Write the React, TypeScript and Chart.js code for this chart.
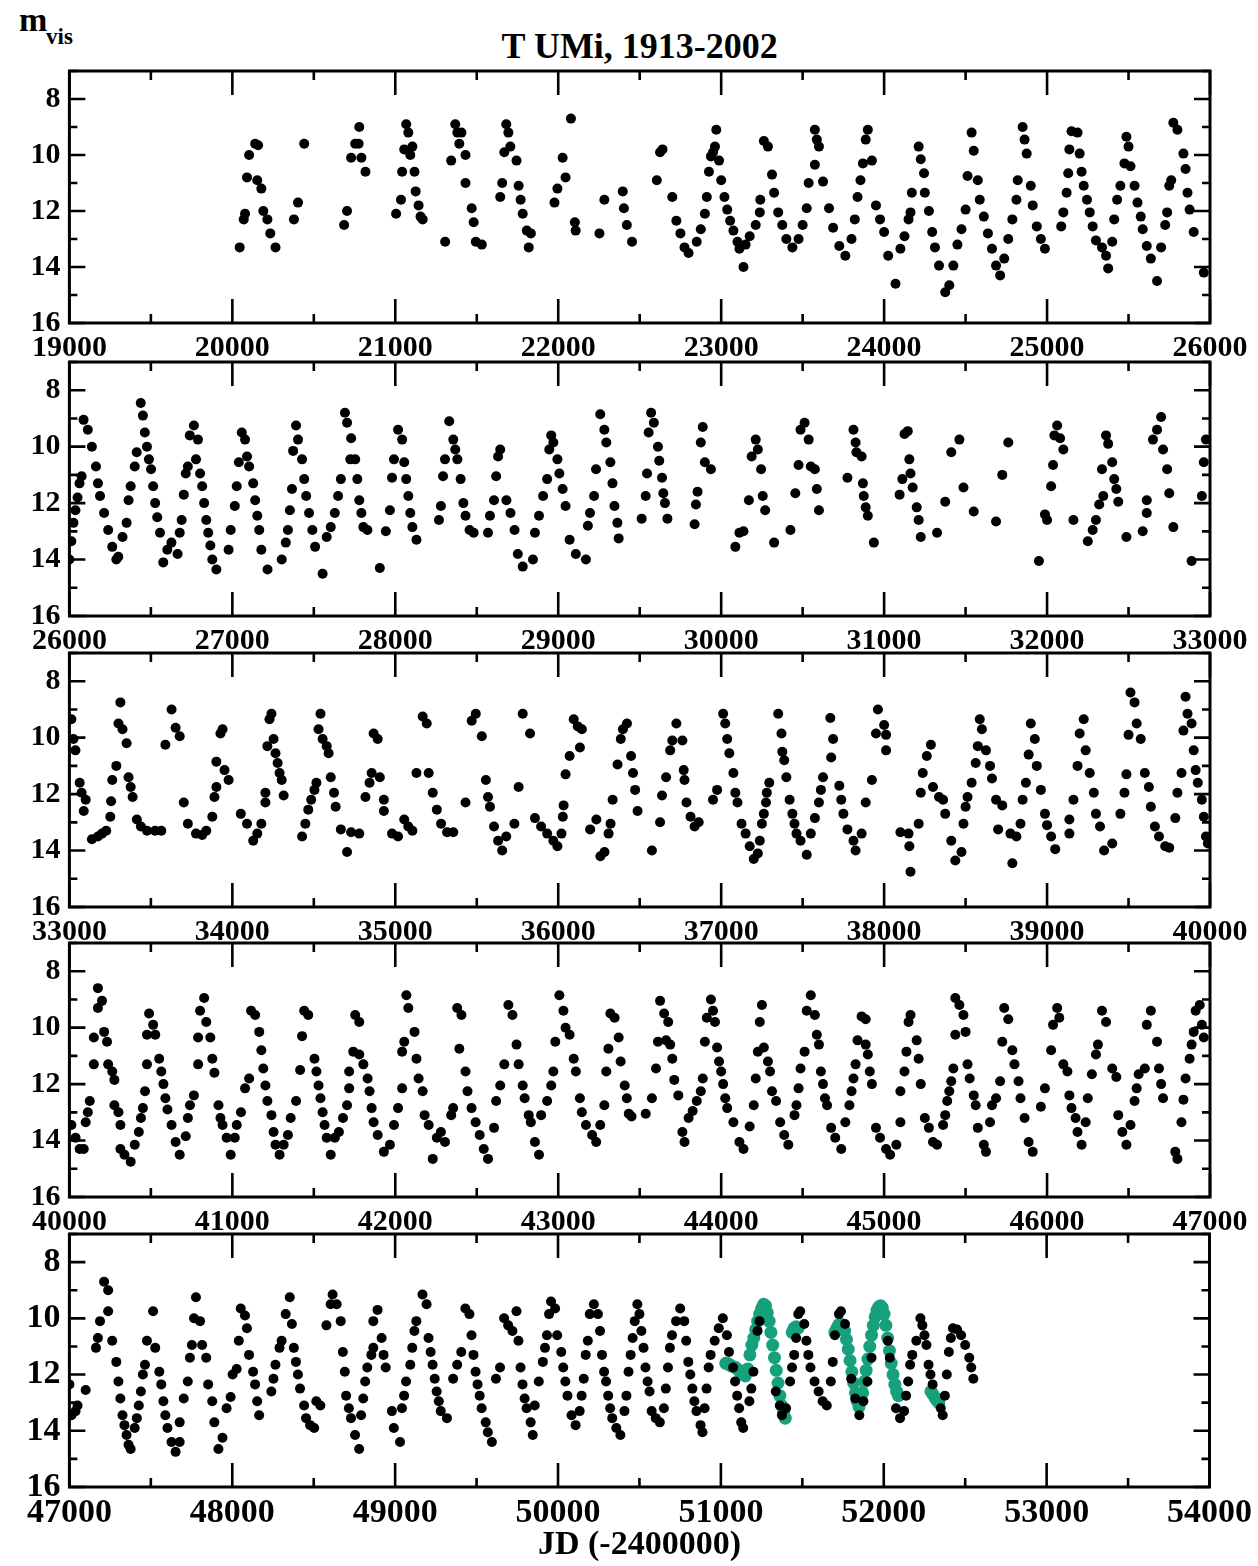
import React, { useEffect, useRef } from "react";
import { Chart, registerables } from "chart.js";

Chart.register(...registerables);

// ---------------- data ----------------
const TITLE = "T UMi, 1913-2002";
const X_TITLE = "JD (-2400000)";
const Y_LABEL = "m";
const Y_LABEL_SUB = "vis";
const PANEL_STARTS = [19000, 26000, 33000, 40000, 47000];
const PANEL_SPAN = 7000;
const MAG_TICKS = [8, 10, 12, 14, 16];
const MAG_MIN = 7;
const MAG_MAX = 16;

// visual magnitude estimates [JD-2400000, m_vis]
const panel1: [number, number][] = [
  [20045,13.3],[20070,12.3],[20078,12.1],[20090,10.8],[20103,10.0],[20140,9.6],[20158,9.65],[20153,10.9],[20178,11.2],[20190,12.0],[20215,12.3],[20233,12.8],[20265,13.3],
  [20378,12.3],[20403,11.7],[20441,9.6],
  [20686,12.5],[20704,12.0],[20729,10.1],[20754,9.6],[20775,9.6],[20779,9.0],[20792,10.1],[20817,10.6],
  [21005,12.1],[21035,11.6],[21042,10.6],[21055,9.8],[21067,8.9],[21080,9.2],[21092,10.0],[21105,9.7],[21118,10.6],[21125,11.3],[21143,11.8],[21155,12.2],[21168,12.3],
  [21306,13.1],[21343,10.2],[21368,8.9],[21381,9.2],[21393,9.6],[21406,9.2],[21431,10.0],[21431,11.0],[21469,11.9],[21481,12.4],[21494,13.1],[21531,13.2],
  [21644,11.5],[21656,11.0],[21669,9.9],[21681,8.9],[21694,9.2],[21706,9.7],[21744,10.2],[21757,11.1],[21769,11.6],[21782,12.1],[21807,12.7],[21819,13.3],[21832,12.8],
  [21977,11.7],[21995,11.2],[22027,10.1],[22045,10.8],[22078,8.7],[22102,12.4],[22107,12.7],
  [22253,12.8],[22283,11.6],[22396,11.3],[22403,11.9],[22421,12.5],[22453,13.1],
  [22605,10.9],[22625,9.9],[22640,9.8],
  [22700,11.5],[22725,12.35],[22750,12.8],[22775,13.3],[22800,13.5],[22850,13.1],[22875,12.65],[22900,12.1],[22912,11.5],[22925,10.6],[22937,10.05],[22950,9.9],[22962,9.7],[22970,9.1],[22987,10.2],
  [23000,10.9],[23020,11.5],[23037,11.95],[23055,12.35],[23075,12.7],[23100,13.1],[23112,13.35],[23137,14.0],[23150,13.2],[23175,12.9],[23212,12.5],[23237,12.05],[23240,11.6],
  [23262,9.5],[23287,9.7],[23312,10.7],[23325,11.35],[23350,12.05],[23375,12.5],[23400,13.0],[23437,13.3],[23475,13.0],[23500,12.5],[23525,11.9],
  [23537,11.0],[23575,9.1],[23587,9.45],[23575,10.35],[23600,9.7],[23625,10.95],
  [23662,11.9],[23687,12.6],[23725,13.25],[23762,13.6],[23800,13.0],[23820,12.3],[23837,11.5],[23855,10.9],[23870,10.3],[23887,9.45],[23900,9.1],[23925,10.2],
  [23950,11.8],[23975,12.3],[24000,12.75],[24025,13.6],[24070,14.6],[24100,13.35],[24125,12.9],[24150,12.3],[24162,12.05],[24170,11.35],[24212,9.7],[24225,10.15],[24245,10.65],[24250,11.35],
  [24275,12.0],[24295,12.75],[24312,13.3],[24337,13.95],[24375,14.9],[24400,14.65],[24425,13.95],[24450,13.2],[24475,12.65],[24500,11.95],[24512,10.75],[24537,9.2],[24550,9.85],[24575,10.9],[24587,11.6],
  [24612,12.2],[24637,12.8],[24662,13.35],[24687,13.95],[24712,14.3],[24737,13.7],[24762,13.0],[24787,12.3],[24812,11.6],[24820,10.9],[24850,9.0],[24862,9.45],[24875,9.95],[24900,11.1],[24912,11.8],[24937,12.55],[24962,13.0],[24987,13.35],
  [25087,12.55],[25100,12.05],[25120,11.35],[25130,10.65],[25137,9.8],[25150,9.15],[25187,9.2],[25200,9.95],[25212,10.6],[25225,11.1],[25245,11.6],[25262,12.05],[25280,12.55],[25300,13.05],[25337,13.3],[25362,13.6],[25375,14.05],[25400,13.1],
  [25412,12.3],[25430,11.6],[25450,11.1],[25475,10.3],[25487,9.35],[25500,9.7],[25512,10.4],[25537,11.1],[25555,11.7],[25575,12.2],[25587,12.65],[25612,13.25],[25637,13.7],[25675,14.5],[25700,13.3],[25725,12.5],[25737,12.05],[25750,11.1],[25762,10.9],[25775,8.85],[25800,9.1],[25837,9.95],[25850,10.5],[25862,11.35],[25875,11.95],[25900,12.75],[25962,14.2],
];

const panel2: [number, number][] = [
  [26000,14.0],[26012,13.35],[26025,12.7],[26037,12.25],[26050,11.8],[26062,11.3],[26075,11.05],[26087,9.05],[26113,9.4],[26138,10.0],[26163,10.7],[26175,11.3],[26188,11.75],[26213,12.35],[26238,12.95],[26263,13.55],[26288,14.0],[26300,13.9],[26326,13.2],[26351,12.7],
  [26363,11.9],[26376,11.4],[26401,10.7],[26413,10.2],[26438,8.45],[26451,8.9],[26463,9.5],[26476,10.0],[26488,10.45],[26501,10.8],[26514,11.4],[26526,12.0],[26539,12.5],[26556,13.05],[26576,14.1],[26601,13.65],[26626,13.4],[26664,13.8],[26677,13.05],[26689,12.6],
  [26702,11.7],[26714,10.95],[26727,10.7],[26739,9.6],[26764,9.25],[26789,9.75],[26777,10.45],[26802,10.95],[26815,11.4],[26827,12.0],[26840,12.6],[26852,13.05],[26865,13.5],[26877,14.0],[26902,14.35],
  [26977,13.65],[26990,12.95],[27015,12.1],[27027,11.4],[27040,10.55],[27058,9.5],[27078,9.75],[27090,10.35],[27103,10.7],[27128,11.3],[27140,11.9],[27153,12.45],[27165,12.95],[27178,13.65],[27216,14.35],
  [27303,14.0],[27328,13.4],[27341,12.95],[27353,12.25],[27366,11.5],[27373,10.15],[27391,9.25],[27403,9.75],[27428,10.45],[27441,11.15],[27453,11.75],[27471,12.35],[27491,12.95],[27508,13.55],[27554,14.5],
  [27579,13.2],[27604,12.85],[27629,12.35],[27649,11.75],[27666,11.15],[27691,8.8],[27704,9.15],[27729,9.7],[27724,10.45],[27754,10.45],[27767,11.15],[27779,11.9],[27792,12.35],[27804,12.85],[27829,12.95],
  [27905,14.3],[27942,13.0],[27967,12.25],[27980,11.1],[27992,10.45],[28017,9.4],[28042,9.75],[28055,10.55],[28067,11.15],[28080,11.75],[28092,12.35],[28105,12.85],[28130,13.3],
  [28268,12.6],[28280,12.1],[28293,11.05],[28305,10.45],[28331,9.1],[28356,9.75],[28368,10.1],[28381,10.45],[28401,11.15],[28418,12.0],[28431,12.45],[28456,12.95],[28481,13.05],
  [28569,13.05],[28581,12.45],[28606,11.9],[28619,11.05],[28631,10.35],[28644,10.1],[28682,11.9],[28707,12.35],[28732,12.95],[28752,13.8],[28782,14.25],[28845,14.0],
  [28857,13.05],[28882,12.45],[28907,11.75],[28932,11.15],[28945,10.1],[28957,9.6],[28970,9.85],[28995,10.45],[29007,10.95],[29027,11.5],[29045,12.1],[29070,13.3],[29108,13.8],[29170,14.0],
  [29182,12.8],[29195,12.35],[29220,11.75],[29232,10.8],[29258,8.85],[29283,9.4],[29295,9.85],[29320,10.55],[29333,11.3],[29345,12.1],[29363,12.7],[29371,13.25],
  [29512,12.55],[29537,11.75],[29545,10.95],[29555,9.5],[29570,8.8],[29587,9.15],[29612,10.0],[29620,10.5],[29637,11.1],[29645,11.65],[29655,12.0],[29670,12.55],
  [29837,12.75],[29845,12.05],[29855,11.6],[29875,9.85],[29887,9.3],[29900,10.55],[29937,10.8],
  [30087,13.55],[30112,13.05],[30137,13.0],[30170,11.9],[30187,10.35],[30212,9.75],[30225,10.1],[30245,10.8],[30255,11.75],[30270,12.25],
  [30325,13.4],[30425,12.95],[30455,11.65],[30475,10.65],[30487,9.4],[30512,9.15],[30537,9.75],[30550,10.7],[30575,10.8],[30587,11.5],[30600,12.25],
  [30775,11.1],[30812,9.4],[30825,9.85],[30830,10.2],[30862,10.35],[30870,11.3],[30875,11.75],[30887,12.15],[30900,12.45],[30937,13.4],
  [31095,11.7],[31112,11.15],[31125,9.55],[31145,9.45],[31155,10.45],[31162,10.95],[31175,11.45],[31200,12.15],[31212,12.6],[31225,13.2],[31325,13.05],
  [31375,11.95],[31412,10.2],[31462,9.75],[31487,11.45],[31550,12.3],[31687,12.65],[31725,11.0],[31762,9.85],
  [31950,14.05],[31987,12.4],[32000,12.6],[32025,11.4],[32037,10.65],[32045,9.6],[32062,9.25],[32080,9.7],[32100,10.1],[32162,12.6],
  [32250,13.35],[32280,12.95],[32300,12.6],[32320,12.05],[32345,11.75],[32337,10.8],[32362,9.6],[32375,9.9],[32400,10.55],[32412,11.15],[32425,11.5],[32437,11.95],
  [32487,13.2],[32587,13.0],[32612,12.35],[32612,11.9],[32650,9.75],[32675,9.4],[32700,8.95],[32712,10.1],[32737,10.8],[32750,11.65],[32775,12.85],
  [32887,14.05],[32950,11.75],[32962,10.55],[32975,9.75],
];

const panel3: [number, number][] = [
  [33012,9.35],[33025,10.05],[33037,10.45],[33063,11.6],[33075,11.95],[33100,12.2],[33088,12.6],
  [33138,13.6],[33175,13.5],[33200,13.4],[33226,13.3],[33251,12.8],[33256,12.25],[33263,11.5],[33288,11.0],[33301,9.5],[33313,8.75],[33326,9.7],[33351,10.2],[33363,11.4],[33376,11.75],[33388,12.1],
  [33414,12.9],[33439,13.15],[33476,13.3],[33526,13.3],[33564,13.3],
  [33589,10.25],[33627,9.0],[33652,9.65],[33677,9.95],
  [33702,12.3],[33727,13.05],[33777,13.4],[33815,13.45],[33840,13.3],[33877,12.8],[33890,12.1],[33902,11.75],[33902,10.85],[33927,9.85],[33940,9.7],[33952,11.15],[33977,11.5],
  [34052,12.7],[34090,13.05],[34128,13.65],[34153,13.4],[34178,13.05],[34203,12.3],[34203,11.95],[34215,10.3],[34228,9.35],[34240,9.15],[34253,10.05],[34265,10.55],[34278,10.9],[34290,11.25],[34303,11.5],[34315,12.05],
  [34428,13.5],[34448,13.05],[34466,12.55],[34484,12.2],[34504,11.85],[34516,11.6],[34529,9.7],[34541,9.15],[34554,10.05],[34579,10.3],[34591,10.55],[34604,11.4],[34624,11.95],[34634,12.45],
  [34666,13.25],[34704,14.05],[34729,13.35],[34779,13.4],
  [34817,12.1],[34842,11.6],[34855,11.25],[34867,9.85],[34892,10.05],[34905,11.4],[34930,12.2],[34930,12.6],
  [34980,13.4],[35017,13.5],[35055,12.9],[35080,13.15],[35105,13.3],
  [35130,11.25],[35168,9.25],[35193,9.5],[35205,11.25],[35230,11.95],[35255,12.55],[35281,13.05],[35318,13.35],[35356,13.35],
  [35431,12.3],[35469,9.4],[35494,9.15],[35531,9.95],
  [35556,11.5],[35569,12.1],[35581,12.45],[35606,13.15],[35631,13.65],[35656,14.0],[35681,13.5],[35731,13.05],
  [35757,11.75],[35782,9.15],[35827,9.85],
  [35857,12.85],[35895,13.15],[35932,13.4],[35970,13.65],[35995,13.85],[36020,13.4],[36028,12.8],[36033,12.4],[36045,11.3],[36070,10.65],[36095,9.35],[36120,9.6],[36133,10.35],[36145,9.7],
  [36196,13.25],[36234,12.9],[36259,14.2],[36284,14.05],[36309,13.4],[36321,13.05],[36334,12.2],[36364,10.95],[36384,10.05],[36397,9.7],[36422,9.5],[36447,10.65],[36459,11.25],[36472,11.85],[36487,12.6],
  [36575,14.0],[36625,13.0],[36637,12.05],[36662,11.4],[36687,10.45],[36700,10.1],[36725,9.5],[36762,10.1],[36770,11.15],[36775,11.5],[36787,12.3],[36812,12.8],[36837,13.15],[36862,13.0],
  [36950,12.2],[36975,11.85],[37012,9.15],[37025,9.5],[37037,10.05],[37050,10.55],[37075,11.25],[37087,11.95],[37100,12.3],[37125,13.05],[37150,13.4],[37175,13.85],[37200,14.3],[37225,14.1],[37237,13.65],[37250,13.05],[37262,12.7],[37275,12.3],[37280,11.95],[37295,11.6],
  [37350,9.15],[37370,9.85],[37375,10.5],[37387,10.8],[37400,11.4],[37420,12.2],[37437,12.7],[37450,13.05],[37462,13.4],[37487,13.65],[37525,14.15],[37550,13.4],[37575,12.85],[37600,12.3],[37612,11.85],[37625,11.4],[37675,10.7],[37687,10.05],[37670,9.3],
  [37725,11.7],[37737,12.2],[37750,12.7],[37775,13.25],[37812,13.65],[37825,14.0],[37862,13.4],[37887,12.3],[37925,11.5],[37950,9.85],[37962,9.0],[38000,9.55],[38012,9.9],[38012,10.45],
  [38100,13.35],[38150,13.4],[38155,13.85],[38162,14.75],[38212,13.05],[38225,11.95],[38237,11.25],[38262,10.65],[38287,10.25],[38300,11.75],[38337,12.1],[38362,12.2],[38375,12.7],
  [38412,13.65],[38437,14.35],[38475,14.05],[38487,13.05],[38500,12.45],[38512,12.1],[38537,11.6],[38562,10.9],[38575,10.3],[38587,9.35],[38600,9.7],[38625,10.45],[38650,11.0],[38662,11.45],[38687,12.2],[38725,12.4],
  [38700,13.25],[38775,13.4],[38787,14.45],[38812,13.5],[38837,13.05],[38850,12.2],[38870,11.6],[38887,10.6],[38900,9.5],[38925,10.05],[38937,11.0],[38962,11.85],[38987,12.7],[39000,13.1],[39025,13.5],[39050,13.95],
  [39137,13.4],[39137,12.9],[39162,12.2],[39187,11.0],[39200,9.85],[39225,9.35],[39237,10.45],[39262,11.25],[39287,11.95],[39300,12.7],[39325,13.15],[39350,14.0],[39400,13.75],
  [39450,12.7],[39475,11.95],[39487,11.3],[39500,9.9],[39512,8.4],[39537,8.75],[39550,9.5],[39575,10.05],[39600,11.25],[39625,11.75],[39637,12.45],[39662,13.15],[39687,13.5],[39725,13.85],[39750,13.9],
  [39787,12.85],[39800,11.95],[39825,11.25],[39837,9.75],[39850,8.55],[39862,9.15],[39887,9.5],[39900,10.45],[39912,11.15],[39925,11.6],[39950,12.2],[39962,12.8],[39975,13.5],[39987,13.75],
];

const panel4: [number, number][] = [
  [40012,13.45],[40038,13.9],[40063,14.3],[40088,14.3],[40100,13.35],[40113,13.0],[40125,12.6],[40150,11.3],[40150,10.35],[40175,9.3],[40175,8.6],[40200,9.05],[40213,10.15],[40231,10.5],[40238,11.3],[40263,11.55],[40276,11.85],[40276,12.75],[40301,13.0],[40313,13.45],
  [40313,14.3],[40338,14.5],[40376,14.75],[40401,14.15],[40426,13.7],[40439,13.2],[40451,12.85],[40464,12.25],[40476,11.3],[40476,10.25],[40489,9.5],[40514,9.9],[40527,10.25],[40551,11.1],[40564,11.55],[40577,12.0],[40589,12.5],[40602,12.9],[40627,13.45],[40652,14.05],[40677,14.5],[40714,13.85],
  [40727,13.2],[40740,12.75],[40764,12.4],[40790,11.3],[40790,10.35],[40802,9.4],[40827,8.95],[40840,9.8],[40865,10.35],[40877,11.1],[40890,11.6],[40915,12.75],[40927,13.2],[40940,13.45],[40965,13.9],[40990,14.5],[41015,13.9],[41027,13.45],[41053,13.0],[41078,12.15],[41103,11.8],[41115,9.4],[41140,9.55],[41165,10.15],[41178,10.8],[41190,11.45],[41203,12.05],[41215,12.6],[41240,13.1],[41253,13.7],[41265,14.15],[41290,14.5],[41315,14.15],[41341,13.8],[41358,13.2],[41391,12.6],[41416,11.5],[41428,10.3],[41441,9.4],[41466,9.55],
  [41504,11.1],[41516,11.55],[41529,12.05],[41541,12.5],[41554,13.0],[41566,13.45],[41579,13.9],[41604,14.5],[41629,13.9],[41654,13.7],[41679,13.2],[41704,12.75],[41717,12.15],[41717,11.55],[41742,10.85],[41754,9.55],[41779,9.8],[41779,10.95],[41804,11.3],[41830,11.8],[41842,12.25],[41855,12.85],[41867,13.35],[41892,13.8],[41930,14.4],[41967,14.15],[41992,13.45],[42017,12.85],[42042,12.15],[42042,10.85],[42055,10.5],[42068,8.85],[42080,9.3],[42118,10.15],[42130,11.1],[42143,11.8],[42168,12.25],[42180,13.1],[42205,13.45],[42230,14.65],[42255,13.9],[42280,13.7],[42305,14.05],[42343,13.1],[42355,12.85],
  [42380,9.3],[42406,9.55],[42393,10.75],[42431,11.55],[42443,12.25],[42468,12.85],[42493,13.35],[42518,13.8],[42543,14.3],[42569,14.65],[42606,13.55],[42619,12.6],[42644,12.05],[42669,11.3],[42694,9.2],[42719,9.55],[42744,10.6],[42757,11.3],[42782,12.05],[42794,12.5],[42819,13.1],[42832,13.35],[42857,14.05],[42882,14.5],[42895,13.1],[42932,12.6],[42957,12.05],[42970,11.55],[42982,10.5],[43007,8.85],[43032,9.4],[43045,10.0],[43070,10.25],[43095,11.1],[43108,11.55],[43133,12.5],[43145,13.0],[43170,13.45],[43208,13.8],[43233,14.05],[43258,13.45],[43283,12.75],[43295,11.55],[43308,10.75],[43320,9.5],[43346,9.65],[43371,10.35],[43383,11.2],[43408,12.05],[43421,12.5],[43433,13.05],
  [43450,13.15],[43537,13.05],[43575,12.5],[43600,11.45],[43612,10.5],[43625,9.05],[43650,9.5],[43675,9.8],[43662,10.45],[43687,10.6],[43700,11.1],[43712,11.85],[43737,12.4],[43762,13.7],[43775,14.05],[43800,13.2],[43825,12.95],[43850,12.6],[43875,12.25],[43887,11.8],[43900,10.5],[43912,9.65],[43937,9.0],[43950,9.4],[43962,9.8],[43975,10.7],[43987,11.2],[44000,11.55],[44012,12.0],[44025,12.5],[44037,12.85],[44075,13.35],[44112,14.05],[44137,14.3],[44175,13.5],[44200,12.75],[44212,11.8],[44225,10.85],[44237,9.8],[44250,9.2],[44262,10.7],[44287,11.2],[44300,11.55],[44312,12.25],[44337,12.6],[44362,13.35],[44387,13.8],[44412,14.15],[44450,13.1],[44462,12.75],[44475,12.15],[44487,11.45],[44512,10.85],[44525,9.4],[44550,8.85],[44575,9.55],[44587,10.25],[44600,10.6],[44612,11.55],[44625,12.0],[44637,12.5],[44650,12.75],[44675,13.55],[44700,13.9],[44737,14.3],[44762,13.35],[44787,12.75],[44800,12.25],[44812,11.8],[44825,11.3],[44837,10.45],[44862,9.6],[44887,9.7],[44887,10.6],[44900,10.95],[44912,11.55],[44925,12.0],[44950,13.55],[44975,13.9],[45012,14.3],[45037,14.5],[45075,14.15],[45100,13.35],[45100,12.25],[45125,11.55],[45137,10.85],[45150,9.8],[45162,9.55],[45200,10.45],[45212,11.1],[45225,12.0],
  [45250,13.2],[45275,13.55],[45300,14.05],[45325,14.15],[45362,13.45],[45375,13.1],[45387,12.6],[45400,12.25],[45412,11.9],[45425,11.45],[45437,10.25],[45437,8.95],[45462,9.2],[45487,9.55],[45500,10.15],[45512,11.3],[45525,11.8],[45550,12.4],[45562,12.75],[45575,13.55],[45612,14.15],[45625,14.4],[45650,13.35],[45662,12.75],[45687,12.5],[45712,11.9],[45725,10.5],[45737,9.3],[45762,9.7],[45787,10.8],[45800,11.3],[45825,11.9],[45837,12.5],[45862,13.2],[45887,14.05],[45912,14.4],[45962,12.8],[45987,12.15],
  [46025,10.8],[46037,9.9],[46062,9.3],[46075,9.65],[46100,11.3],[46125,11.55],[46137,12.4],[46150,12.85],[46175,13.2],[46187,13.7],[46212,14.15],[46237,13.35],[46250,12.5],[46275,11.65],[46300,10.95],[46312,10.6],[46337,9.4],[46362,9.8],[46400,11.45],[46425,11.75],
  [46437,13.1],[46462,13.7],[46487,14.15],[46512,13.45],[46537,12.6],[46550,12.15],[46562,11.65],[46600,11.45],[46612,9.9],[46637,9.4],[46675,10.5],[46687,11.45],[46700,12.0],[46712,12.5],[46787,14.4],[46800,14.65],[46825,13.35],[46837,12.55],[46850,11.8],[46875,11.1],[46887,10.6],[46900,10.15],[46912,9.4],[46937,9.2],[46950,9.9],[46962,10.35],
];

const panel5: [number, number][] = [
  [47000,12.35],[47013,13.45],[47038,13.3],[47050,13.1],[47100,12.55],[47163,11.05],[47175,10.7],[47188,10.1],[47213,8.7],[47238,9.0],[47238,9.75],[47263,10.8],[47288,11.55],[47301,12.25],[47313,12.85],[47326,13.45],[47338,13.8],[47351,14.15],[47363,14.5],[47376,14.65],[47401,13.9],[47414,13.55],[47426,13.1],[47439,12.6],[47451,12.0],[47464,11.65],[47476,10.8],[47514,9.75],[47527,11.05],[47552,11.9],[47564,12.35],[47577,12.95],[47589,13.45],[47602,13.9],[47627,14.4],[47652,14.75],[47677,14.4],[47677,13.7],[47702,12.85],[47727,12.25],[47740,11.4],[47752,10.95],[47765,10.0],[47777,9.25],[47802,10.1],[47815,10.95],[47840,11.4],[47852,12.35],[47877,12.95],[47890,13.7],[47915,14.65],[47940,14.25],[47965,13.2],[47990,12.8],[48002,12.0],[48027,11.8],[48040,10.8],[48052,9.65],[48078,9.9],[48090,10.35],[48103,11.3],[48128,11.9],[48140,12.35],[48153,12.95],[48165,13.45],
  [48240,12.6],[48253,12.15],[48265,11.65],[48290,11.05],[48303,10.8],[48328,9.85],[48353,9.25],[48366,10.2],[48378,11.05],[48391,11.55],[48403,12.0],[48416,12.5],[48441,13.1],[48453,13.55],[48478,13.8],[48503,13.9],[48516,12.95],[48541,13.1],[48578,10.25],[48604,9.5],[48616,9.15],[48641,9.5],[48666,10.1],[48679,11.2],[48691,11.9],[48699,12.75],[48716,13.2],[48729,13.55],[48754,14.15],[48779,14.65],[48791,13.45],[48804,12.85],[48816,12.25],[48829,11.75],[48854,11.3],[48866,11.05],[48866,10.1],[48892,9.7],[48917,10.7],[48929,11.3],[48942,11.75],
  [48980,13.3],[48992,13.9],[49030,14.4],[49042,13.2],[49055,12.75],[49067,12.25],[49093,11.65],[49105,11.05],[49118,10.45],[49130,10.1],[49168,9.15],[49193,9.5],[49205,10.7],[49218,11.2],[49230,11.65],[49243,12.15],[49255,12.6],[49268,12.95],[49280,13.3],[49318,13.55],
  [49356,12.15],[49381,11.65],[49406,11.2],[49431,9.65],[49456,9.85],[49469,10.6],[49481,11.3],[49494,11.9],[49506,12.35],[49519,12.75],[49531,13.2],[49556,13.7],[49569,14.05],[49594,14.4],
  [49619,12.15],[49644,11.75],[49669,10.0],[49694,10.25],[49720,10.45],[49745,9.75],[49757,10.8],[49770,11.75],[49782,12.35],[49795,12.85],[49807,13.2],[49832,13.7],[49845,14.15],[49857,13.1],[49882,12.25],[49907,11.55],[49920,11.05],[49932,10.6],[49945,9.85],[49957,9.4],[49982,9.65],[49995,10.6],[50020,11.2],[50032,11.75],[50045,12.25],[50058,12.75],[50083,13.45],[50108,13.8],[50133,13.3],[50145,12.75],[50158,12.15],[50170,11.3],[50183,10.8],[50195,9.85],[50220,9.5],[50245,9.85],[50258,10.45],[50270,11.3],[50283,11.9],[50295,12.25],[50308,12.75],[50320,13.2],[50333,13.55],[50358,13.9],[50383,14.15],[50408,13.3],[50420,12.75],[50433,11.9],[50446,11.3],[50458,10.7],[50471,10.1],
  [50487,9.5],[50500,9.85],[50512,10.45],[50525,11.05],[50537,11.75],[50550,12.25],[50562,12.6],[50575,13.3],[50600,13.55],[50625,13.7],[50650,13.2],[50662,12.5],[50675,11.75],[50687,11.05],[50700,10.6],[50725,10.1],[50750,9.65],[50775,10.1],[50787,10.8],[50800,11.55],[50812,12.0],[50825,12.5],[50837,12.95],[50850,13.3],[50875,13.8],[50887,14.05],[50900,13.2],[50912,12.5],[50925,11.75],[50937,11.3],[50962,10.8],[50987,10.35],[51012,10.0],[51037,10.6],[51050,11.2],[51075,11.75],[51087,12.25],[51100,12.75],[51112,13.2],[51125,13.7],[51137,13.9],
  [51175,12.95],[51187,12.5],[51200,11.9],[51225,10.45],[51237,10.1],
  [51337,12.6],[51362,13.1],[51375,13.45],[51400,13.2],[51425,12.25],[51437,11.75],[51450,11.3],[51462,10.7],[51475,9.85],[51487,9.75],[51512,10.2],[51525,10.8],[51537,11.3],[51550,11.75],[51575,12.25],[51600,12.6],[51625,12.95],[51650,13.1],[51675,12.25],[51687,11.55],[51700,10.6],[51725,9.85],[51737,9.75],[51762,10.2],
  [51800,12.15],[51825,12.85],[51850,13.45],[51875,12.95],[51900,12.25],[51925,11.4],
  [52025,10.8],[52037,11.4],[52075,13.2],[52100,13.55],[52125,13.3],[52137,12.75],[52150,12.25],[52162,11.65],[52175,11.3],[52200,10.8],[52225,10.0],[52237,10.25],[52250,10.6],[52262,10.95],[52275,11.65],[52287,12.0],[52300,12.35],[52350,13.2],[52362,13.45],[52375,12.75],[52387,12.0],[52400,11.2],[52412,10.7],[52425,10.35],[52450,10.4],[52475,10.6],[52500,10.95],[52525,11.4],[52537,11.75],[52550,12.15],
];

// dense recent observations (highlighted series)
const recentObs: [number, number][] = [
  [51030,11.6],[51045,11.62],[51060,11.68],[51075,11.72],[51090,11.75],[51105,11.82],[51120,11.92],[51135,12.0],[51150,12.05],[51165,11.8],
  [51178,11.3],[51190,10.95],[51202,10.7],[51214,10.4],[51226,10.1],[51238,9.85],[51250,9.65],[51262,9.5],[51274,9.55],[51285,9.8],[51296,10.1],[51307,10.5],[51318,10.95],[51329,11.4],[51340,11.85],[51351,12.3],[51362,12.75],[51373,13.1],[51384,13.35],[51395,13.55],
  [51438,10.5],[51450,10.35],[51462,10.3],[51474,10.35],
  [51700,10.5],[51712,10.35],[51724,10.22],[51736,10.2],[51748,10.3],[51760,10.45],[51771,10.75],[51782,11.1],[51793,11.5],[51804,11.9],[51815,12.3],[51826,12.65],[51837,12.95],[51848,13.15],[51859,12.95],[51870,12.65],[51881,12.25],[51892,11.85],[51903,11.45],[51914,11.0],[51925,10.6],[51936,10.25],[51947,9.95],[51958,9.72],[51969,9.6],[51980,9.55],[51991,9.62],[52002,9.85],[52013,10.25],[52024,10.7],[52035,11.15],[52046,11.6],[52057,12.0],[52068,12.35],[52079,12.6],[52090,12.75],
  [52290,12.6],[52302,12.7],[52314,12.82],[52326,12.92],[52338,13.0],
];

const PANEL_DATA = [panel1, panel2, panel3, panel4, panel5];

// ---------------- layout ----------------
const W = 1258;
const H = 1566;
const PLOT_LEFT = 69.4;
const PLOT_RIGHT = 1210;
const PANEL_TOPS = [71, 362, 653, 943, 1234];
const PANEL_BOTTOMS = [323, 616, 907, 1197, 1487];
const PAD_TOP = 34;
const SERIF = '"Liberation Serif", "Times New Roman", serif';

function panelGeometry(i: number) {
  const isLast = i === PANEL_DATA.length - 1;
  const top = PANEL_TOPS[i];
  const bottom = PANEL_BOTTOMS[i];
  const bottomBox = isLast ? H - bottom : 40;
  const height = PAD_TOP + (bottom - top) + bottomBox;
  return { isLast, top, bottom, bottomBox, height, canvasTop: top - PAD_TOP };
}

function Panel({ index }: { index: number }) {
  const ref = useRef<HTMLCanvasElement | null>(null);
  const g = panelGeometry(index);

  useEffect(() => {
    const canvas = ref.current;
    if (!canvas) return;
    const start = PANEL_STARTS[index];
    const end = start + PANEL_SPAN;
    const labelSize = g.isLast ? 34 : 30;
    const xTickValues: number[] = [];
    for (let v = start; v <= end; v += 1000) xTickValues.push(v);

    const framePlugin = {
      id: "frameTicks",
      afterDraw(chart: any) {
        const { ctx, chartArea: a, scales } = chart;
        const xs = scales.x;
        const ys = scales.y;
        ctx.save();
        ctx.strokeStyle = "#000";
        ctx.lineCap = "butt";
        ctx.lineWidth = 2.6;
        ctx.beginPath();
        for (let v = start; v <= end; v += 500) {
          const px = xs.getPixelForValue(v);
          const len = (v - start) % 1000 === 0 ? 24 : 9;
          ctx.moveTo(px, a.bottom);
          ctx.lineTo(px, a.bottom - len);
          ctx.moveTo(px, a.top);
          ctx.lineTo(px, a.top + len);
        }
        for (let m = MAG_MIN; m <= MAG_MAX; m += 1) {
          const py = ys.getPixelForValue(m);
          const len = m % 2 === 0 ? 16 : 8;
          ctx.moveTo(a.left, py);
          ctx.lineTo(a.left + len, py);
          ctx.moveTo(a.right, py);
          ctx.lineTo(a.right - len, py);
        }
        ctx.stroke();
        ctx.lineWidth = 3;
        ctx.strokeRect(a.left, a.top, a.right - a.left, a.bottom - a.top);
        ctx.restore();
      },
    };

    const datasets: any[] = [
      {
        label: "visual",
        data: PANEL_DATA[index].map(([x, y]) => ({ x, y })),
        backgroundColor: "#000000",
        borderWidth: 0,
        pointRadius: 5,
        pointHoverRadius: 5,
      },
    ];
    if (g.isLast) {
      datasets.push({
        label: "recent",
        data: recentObs.map(([x, y]) => ({ x, y })),
        backgroundColor: "#16a17c",
        borderWidth: 0,
        pointRadius: 6.5,
        pointHoverRadius: 6.5,
      });
    }

    const chart = new Chart(canvas, {
      type: "scatter",
      data: { datasets },
      plugins: [framePlugin],
      options: {
        animation: false,
        responsive: false,
        maintainAspectRatio: false,
        devicePixelRatio: 1,
        events: [],
        layout: { padding: { top: PAD_TOP, right: W - PLOT_RIGHT, left: 0, bottom: 0 } },
        plugins: { legend: { display: false }, tooltip: { enabled: false }, title: { display: false } },
        scales: {
          x: {
            type: "linear",
            position: "bottom",
            min: start,
            max: end,
            afterBuildTicks: (s: any) => {
              s.ticks = xTickValues.map((value) => ({ value }));
            },
            afterFit: (s: any) => {
              s.height = g.bottomBox;
            },
            grid: { display: false, drawTicks: false },
            border: { display: false },
            ticks: {
              autoSkip: false,
              maxRotation: 0,
              minRotation: 0,
              padding: g.isLast ? 6 : 7,
              color: "#000",
              font: { family: SERIF, size: labelSize, weight: "bold" },
              callback: (v: any) => String(v),
            },
            title: {
              display: g.isLast,
              text: X_TITLE,
              color: "#000",
              padding: { top: 0, bottom: 0 },
              font: { family: SERIF, size: 34, weight: "bold" },
            },
          },
          y: {
            type: "linear",
            position: "left",
            min: MAG_MIN,
            max: MAG_MAX,
            reverse: true,
            afterBuildTicks: (s: any) => {
              s.ticks = MAG_TICKS.map((value) => ({ value }));
            },
            afterFit: (s: any) => {
              s.width = PLOT_LEFT;
            },
            grid: { display: false, drawTicks: false },
            border: { display: false },
            ticks: {
              padding: 9,
              color: "#000",
              font: { family: SERIF, size: labelSize, weight: "bold" },
              callback: (v: any) => String(v),
            },
          },
        },
      } as any,
    });
    return () => chart.destroy();
  }, [index]);

  return (
    <canvas
      ref={ref}
      width={W}
      height={g.height}
      style={{ position: "absolute", left: 0, top: g.canvasTop, display: "block" }}
    />
  );
}

export default function App() {
  return (
    <div
      style={{
        position: "absolute",
        left: 0,
        top: 0,
        width: W,
        height: H,
        background: "#ffffff",
        overflow: "hidden",
      }}
    >
      <div
        style={{
          position: "absolute",
          left: 19,
          top: 3,
          font: `bold 34px ${SERIF}`,
          lineHeight: "34px",
          whiteSpace: "nowrap",
          color: "#000",
        }}
      >
        {Y_LABEL}
      </div>
      <div
        style={{
          position: "absolute",
          left: 46,
          top: 25,
          font: `bold 23px ${SERIF}`,
          lineHeight: "23px",
          whiteSpace: "nowrap",
          color: "#000",
        }}
      >
        {Y_LABEL_SUB}
      </div>
      <div
        style={{
          position: "absolute",
          left: PLOT_LEFT,
          width: PLOT_RIGHT - PLOT_LEFT,
          top: 28,
          textAlign: "center",
          font: `bold 36px ${SERIF}`,
          lineHeight: "36px",
          whiteSpace: "nowrap",
          color: "#000",
        }}
      >
        {TITLE}
      </div>
      {PANEL_DATA.map((_, i) => (
        <Panel key={i} index={i} />
      ))}
    </div>
  );
}
